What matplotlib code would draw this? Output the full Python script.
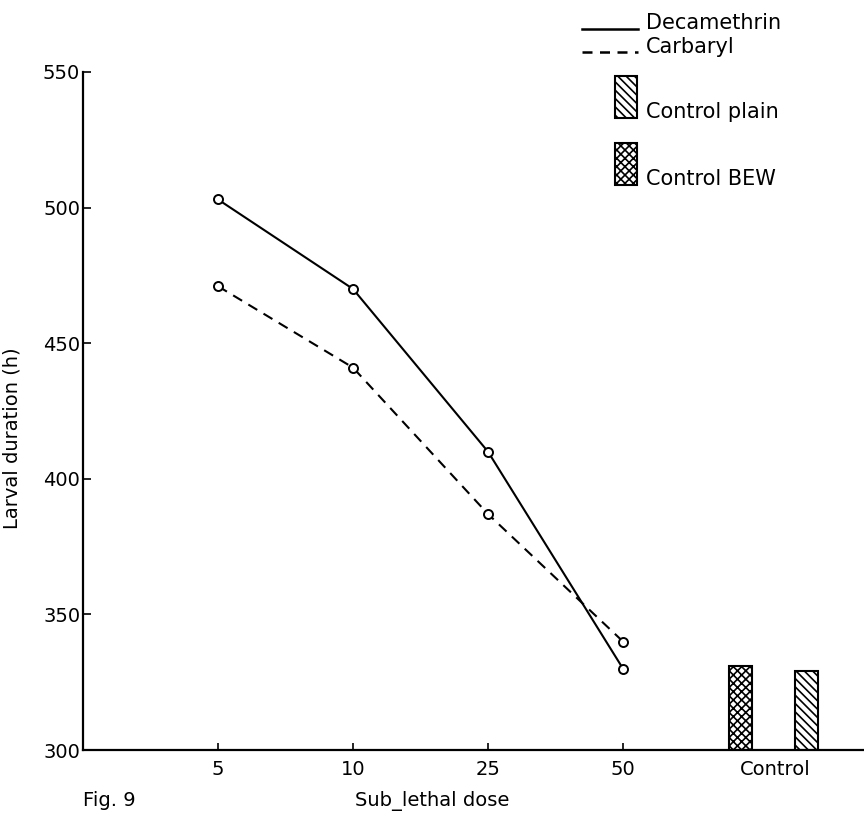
import matplotlib
matplotlib.use("Agg")
import matplotlib.pyplot as plt
from matplotlib.lines import Line2D
from matplotlib.patches import Rectangle

# larval duration (h) at each sub-lethal dose
doses = ['5', '10', '25', '50']
decamethrin = [503, 470, 410, 330]
carbaryl = [471, 441, 387, 340]

# control groups
control_names = ['Control BEW', 'Control plain']
control_values = [331, 329]
control_hatches = ['xxxx', '\\\\\\\\']

y_ticks = [300, 350, 400, 450, 500, 550]

W, H = 864, 818
plt.rcParams['font.family'] = 'DejaVu Sans'
plt.rcParams['hatch.linewidth'] = 1.2

fig = plt.figure(figsize=(W / 100, H / 100), dpi=100)
ax = fig.add_axes([83 / W, 1 - 750 / H, 1 - 83 / W, (750 - 72) / H])

x_pos = [1, 2, 3, 4]
dash = (0, (5, 3.5))

ax.plot(x_pos, decamethrin, color='black', lw=1.5, marker='o', ms=6.5,
        mfc='white', mec='black', mew=1.4, zorder=3)
ax.plot(x_pos, carbaryl, color='black', lw=1.5, ls=dash, marker='o', ms=6.5,
        mfc='white', mec='black', mew=1.4, zorder=3)

# control bars sit to the right of the dose series
bar_x = [4.87, 5.36]
for bx, val, hatch in zip(bar_x, control_values, control_hatches):
    ax.bar(bx, val - 300, bottom=300, width=0.17, color='white',
           edgecolor='black', lw=1.5, hatch=hatch)

ax.set_xlim(0, (W - 83) / 135)
ax.set_ylim(300, 550)

ax.set_xticks(x_pos + [5.13])
ax.set_xticklabels(doses + ['Control'])
ax.xaxis.get_major_ticks()[-1].tick1line.set_visible(False)
ax.set_yticks(y_ticks)

ax.tick_params(axis='x', direction='in', length=5, width=1.2, pad=7, labelsize=14)
ax.tick_params(axis='y', direction='in', length=6, width=1.2, pad=2, labelsize=14)

for side in ['top', 'right']:
    ax.spines[side].set_visible(False)
for side in ['left', 'bottom']:
    ax.spines[side].set_linewidth(1.6)

ax.set_ylabel('Larval duration (h)', fontsize=14)
ax.yaxis.set_label_coords(-61 / (W - 83), 0.46)


def fpx(x, y):
    return x / W, 1 - y / H


# key in the top right corner
fig.add_artist(Line2D([582 / W, 638 / W], [1 - 29 / H, 1 - 29 / H],
                      color='black', lw=1.8))
fig.add_artist(Line2D([582 / W, 638 / W], [1 - 52 / H, 1 - 52 / H],
                      color='black', lw=1.8, ls=(0, (4, 3))))
fig.text(*fpx(646, 23), 'Decamethrin', fontsize=15, va='center', ha='left')
fig.text(*fpx(646, 47), 'Carbaryl', fontsize=15, va='center', ha='left')

for (top, name, hatch) in [(76, 'Control plain', control_hatches[1]),
                           (143, 'Control BEW', control_hatches[0])]:
    x0, y0 = fpx(615, top + 42)
    fig.add_artist(Rectangle((x0, y0), 22 / W, 42 / H, facecolor='white',
                             edgecolor='black', lw=1.5, hatch=hatch,
                             transform=fig.transFigure))
    fig.text(*fpx(646, top + 36), name, fontsize=15, va='center', ha='left')

fig.text(*fpx(83, 800), 'Fig. 9', fontsize=14, va='center', ha='left')
fig.text(*fpx(432, 801), 'Sub_lethal dose', fontsize=14, va='center', ha='center')

fig.savefig('out.png', dpi=100, facecolor='white')
